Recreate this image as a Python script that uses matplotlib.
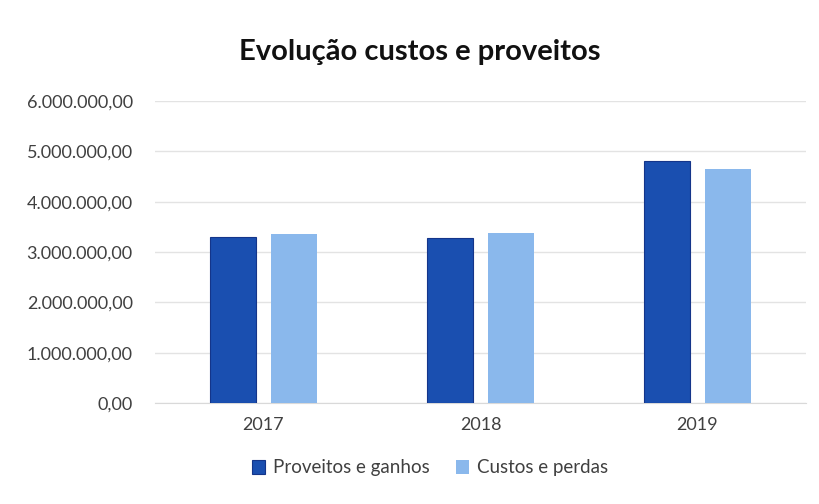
import matplotlib
matplotlib.use("Agg")
import matplotlib.pyplot as plt
import numpy as np
from matplotlib.ticker import FuncFormatter

years = ["2017", "2018", "2019"]
proveitos = [3300000, 3280000, 4810000]
custos = [3350000, 3380000, 4650000]
series_names = ["Proveitos e ganhos", "Custos e perdas"]

plt.rcParams['font.family'] = ['Lato', 'DejaVu Sans']

fig = plt.figure(figsize=(8.19, 5.04), dpi=100)
ax = fig.add_axes([155/819, 1 - 403/504, 651/819, 302/504])

x = np.arange(len(years))
w = 0.215
ax.bar(x - 0.14, proveitos, w, color="#1a4fb0", edgecolor="#14358a", linewidth=0.8, label=series_names[0], zorder=3)
ax.bar(x + 0.14, custos, w, color="#8ab8ec", label=series_names[1], zorder=3)

ax.set_xlim(-0.5, 2.5)
ax.set_ylim(0, 6000000)
ax.set_yticks(np.arange(0, 6000001, 1000000))

def fmt(v, pos):
    s = f"{int(round(v)):,}".replace(",", ".")
    return s + ",00"
ax.yaxis.set_major_formatter(FuncFormatter(fmt))
ax.set_xticks(x)
ax.set_xticklabels(years)

ax.grid(axis='y', color="#e3e3e3", linewidth=1, zorder=0)
for s in ["top", "right", "left"]:
    ax.spines[s].set_visible(False)
ax.spines["bottom"].set_color("#d9d9d9")
ax.tick_params(axis='both', length=0, colors="#404040", labelsize=13)
ax.tick_params(axis='y', pad=16)
ax.tick_params(axis='x', pad=10)

fig.text(420/819, 1 - 52/504, "Evolução custos e proveitos", ha="center", va="center",
         fontsize=21, fontweight="bold", color="#111111")

leg = fig.legend(loc="center", bbox_to_anchor=(430/819, 1 - 468/504), ncol=2, frameon=False,
                 fontsize=13.5, handlelength=0.7, handleheight=0.7, columnspacing=1.4, handletextpad=0.4)
for t in leg.get_texts():
    t.set_color("#404040")

fig.savefig("out.png", dpi=100, facecolor="white")
